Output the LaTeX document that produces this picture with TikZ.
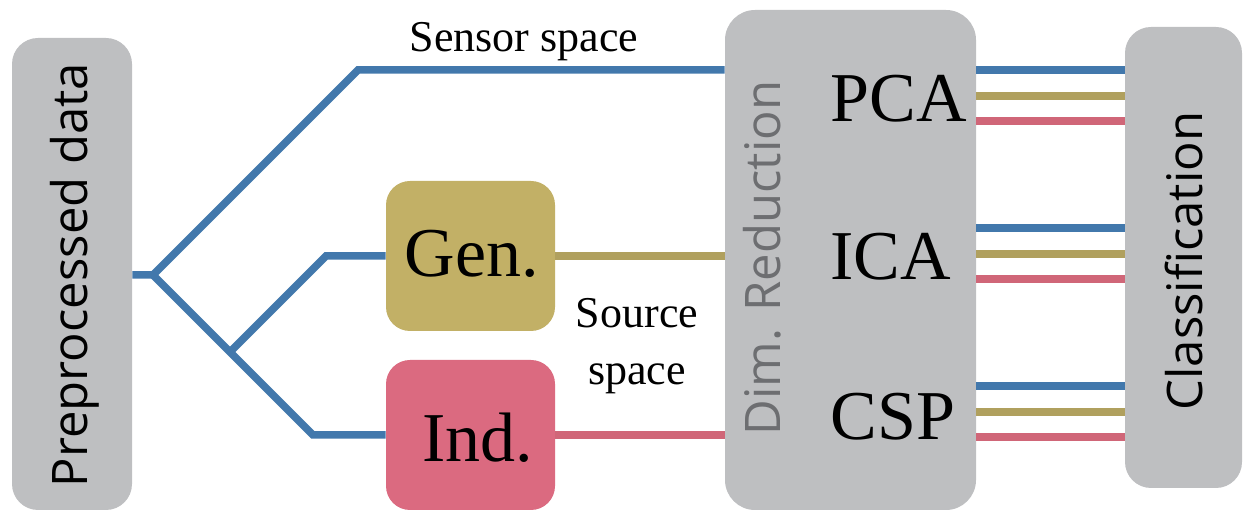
\documentclass[tikz,border=0pt]{standalone}
\usepackage{fontspec}
\setmainfont{Liberation Serif}
\newfontfamily\stagefont{Open Sans}
\usetikzlibrary{positioning}
\definecolor{lineblue}{RGB}{66,120,172}
\definecolor{linetan}{RGB}{176,160,94}
\definecolor{linepink}{RGB}{208,102,120}
\definecolor{boxgray}{RGB}{190,191,193}
\definecolor{gentan}{RGB}{194,176,102}
\definecolor{indpink}{RGB}{219,106,128}
\definecolor{dimtext}{RGB}{109,110,113}
\tikzset{
  stage/.style={rectangle,rounded corners=13pt,fill=boxgray,inner sep=0pt},
  srcbox/.style={rectangle,rounded corners=12pt,inner sep=0pt,
    minimum width=84.5pt,minimum height=75pt},
  flow/.style={line width=3.75pt},
  stagelabel/.style={rotate=90,anchor=base,inner sep=0pt,
    font=\stagefont\fontsize{24.5}{29}\selectfont},
  biglabel/.style={inner sep=0pt,font=\fontsize{35}{40}\selectfont},
  smalllabel/.style={inner sep=0pt,font=\fontsize{22}{28.5}\selectfont}
}

\begin{document}
\begin{tikzpicture}[x=0.5pt,y=-0.5pt]
  \useasboundingbox (0,0) rectangle (1247,512);
  % boxes
  \node[stage,minimum width=60pt,minimum height=236pt] (pre) at (72,274) {};
  \node[srcbox,fill=gentan] (gen) at (470.5,256) {};
  \node[srcbox,fill=indpink] (ind) at (470.5,435) {};
  \node[stage,rounded corners=15pt,minimum width=125.5pt,minimum height=250pt] (dim) at (850.5,260) {};
  \node[stage,minimum width=58.5pt,minimum height=230.5pt] (cls) at (1183.5,257.5) {};
  % labels
  \node[stagelabel] (prelab) at (87,275) {Preprocessed data};
  \node[stagelabel,text=dimtext] (dimlab) at (780,258) {Dim. Reduction};
  \node[stagelabel] (clslab) at (1202,261) {Classification};
  \node[biglabel,anchor=base] (genlab) at (472,277) {Gen.};
  \node[biglabel,anchor=base] (indlab) at (478,462) {Ind.};
  \node[biglabel,anchor=base west] (pca) at (830,122) {PCA};
  \node[biglabel,anchor=base west] (ica) at (830,280) {ICA};
  \node[biglabel,anchor=base west] (csp) at (830,440) {CSP};
  \node[smalllabel,anchor=base] (sensor) at (524,52) {Sensor space};
  \node[smalllabel,anchor=base,align=center] (source) at (637,385) {Source\\space};
  % branches
  \coordinate (j1) at (153,275);
  \coordinate (j2) at (230,352);
  \coordinate (sb) at (358,70);
  \coordinate (gb) at (326,256);
  \coordinate (ib) at (313,435);
  \draw[flow,lineblue] (pre.east |- j1) -- (j1) -- (sb) -- (sb -| dim.west);
  \draw[flow,lineblue] (j1) -- (j2) -- (ib) -- (ib -| ind.west);
  \draw[flow,lineblue] (j2) -- (gb) -- (gb -| gen.west);
  \draw[flow,linetan] (gen.east) -- (gen.east -| dim.west);
  \draw[flow,linepink] (ind.east |- ib) -- (ib -| dim.west);
  % outputs
  \foreach \y in {70,228,386}{
    \draw[flow,lineblue] (dim.east |- 0,\y) -- (cls.west |- 0,\y);
    \draw[flow,linetan] (dim.east |- 0,\y+26) -- (cls.west |- 0,\y+26);
    \draw[flow,linepink] (dim.east |- 0,\y+51) -- (cls.west |- 0,\y+51);
  }
\end{tikzpicture}
\end{document}
